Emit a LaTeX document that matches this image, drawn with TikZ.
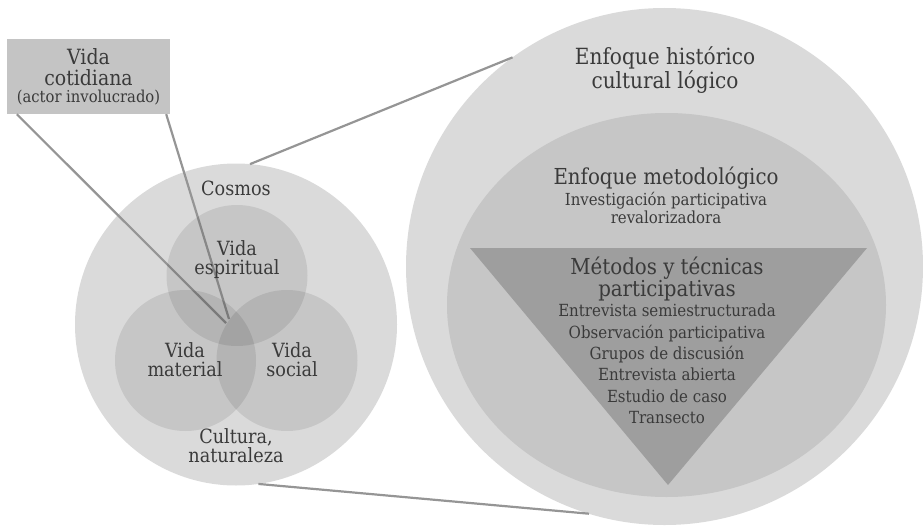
\documentclass[tikz,border=0pt]{standalone}
\usepackage{fontspec}
\setmainfont{DejaVu Serif Condensed}
\usetikzlibrary{shapes.geometric}

\definecolor{ringlight}{HTML}{DADADA}
\definecolor{ringmid}{HTML}{C6C6C6}
\definecolor{wedgegray}{HTML}{9E9E9E}
\definecolor{boxgray}{HTML}{C4C4C4}
\definecolor{linkgray}{HTML}{959595}
\definecolor{inkgray}{HTML}{3A3A3A}

\begin{document}
\begin{tikzpicture}[
    x=1pt, y=-1pt,
    ring/.style={circle, fill=ringlight, inner sep=0, outer sep=0},
    venn/.style={circle, fill=black, fill opacity=0.09, text opacity=1,
      minimum size=141pt, inner sep=0, outer sep=0},
    link/.style={draw=linkgray, line width=2.2pt},
    lbl/.style={text=inkgray, align=center, inner sep=0},
    big/.style={lbl, font=\fontsize{22.3}{19.5}\selectfont},
    mid/.style={lbl, font=\fontsize{19.6}{19}\selectfont},
    small/.style={lbl, font=\fontsize{16.6}{16}\selectfont},
    listing/.style={lbl, font=\fontsize{16.7}{21.4}\selectfont}]

  \useasboundingbox (0,0) rectangle (923,527);

  % right side: rings and wedge
  \node [ring, minimum size=517pt] (historico) at (664.5,266.5) {};
  \node [ellipse, fill=ringmid, inner sep=0, outer sep=0,
    minimum width=439pt, minimum height=384pt] (metodo) at (666.5,305) {};
  \path [fill=wedgegray] (470,248) -- (867,248) -- (668,485) -- cycle;

  % left side: cosmos ring
  \node [ring, minimum size=322pt] (cosmos) at (236,324.5) {};

  % zoom lines
  \draw [link] (cosmos.85) -- (historico.126.2);
  \draw [link] (cosmos.-82.5) -- (historico.-107.3);

  % box and its pointers
  \node [lbl, fill=boxgray, minimum width=163pt, minimum height=75pt,
    font=\fontsize{21}{21}\selectfont] (cotidiana) at (88.5,76.5)
    {Vida\\cotidiana\\[-4pt]{\fontsize{16.4}{14}\selectfont(actor involucrado)}};
  \coordinate (hubleft) at (226,323);
  \coordinate (hubright) at (229,319);
  \draw [link] ([xshift=10pt]cotidiana.south west) -- (hubleft);
  \draw [link] ([xshift=-4pt]cotidiana.south east) -- (hubright);

  % venn circles
  \node [venn] (espiritual) at (237,275.5) {};
  \node [venn] (material) at (185.5,360.5) {};
  \node [venn] (social) at (287,360.5) {};

  % labels, left
  \node [mid] (cosmoslbl) at (236,188.5) {Cosmos};
  \node [mid] (espirituallbl) at (237,259.5) {Vida\\espiritual};
  \node [mid] (materiallbl) at (185,360) {Vida\\material};
  \node [mid] (sociallbl) at (292,360) {Vida\\social};
  \node [mid] (culturalbl) at (236,446) {Cultura,\\naturaleza};

  % labels, right
  \node [big] (historicolbl) at (665,70) {Enfoque histórico\\cultural lógico};
  \node [lbl, font=\fontsize{22}{20}\selectfont] (metodolbl) at (666,178)
    {Enfoque metodológico};
  \node [small] (investlbl) at (666,208)
    {Investigación participativa\\revalorizadora};
  \node [lbl, font=\fontsize{22}{21}\selectfont] (tecnicaslbl) at (667,279)
    {Métodos y técnicas\\participativas};
  \node [listing] (listalbl) at (667,364)
    {Entrevista semiestructurada\\Observación participativa\\Grupos de discusión\\
     Entrevista abierta\\Estudio de caso\\Transecto};
\end{tikzpicture}
\end{document}
